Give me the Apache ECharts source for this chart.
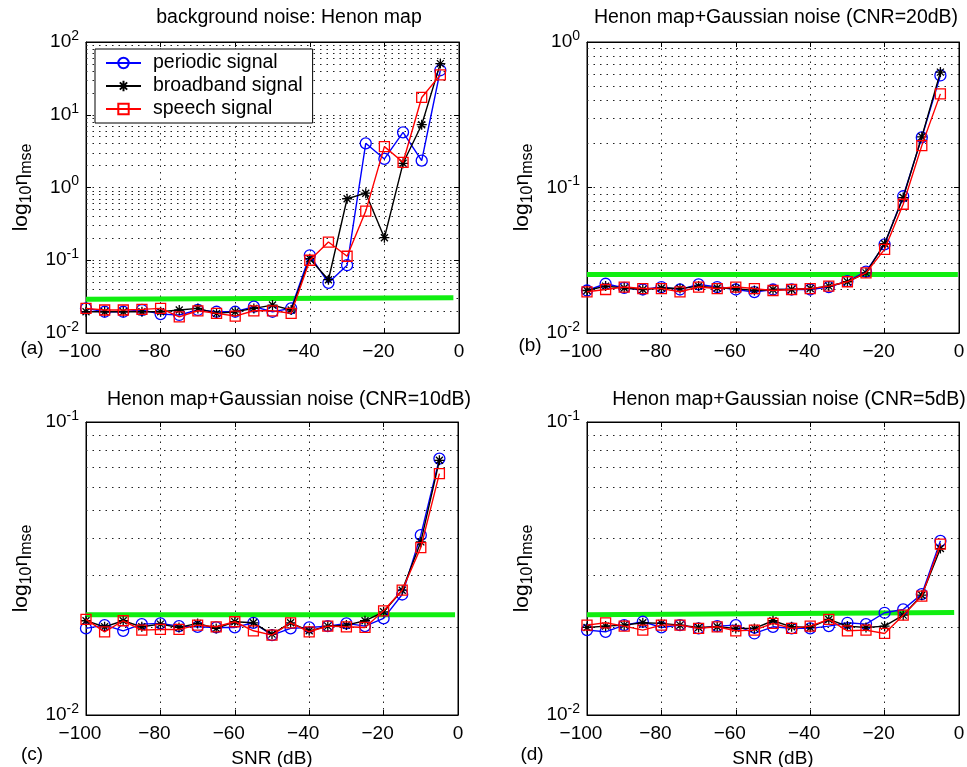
<!DOCTYPE html>
<html>
<head>
<meta charset="utf-8">
<script src="https://cdn.jsdelivr.net/npm/echarts@6/dist/echarts.min.js"></script>
<style>
  html, body { margin: 0; padding: 0; background: #fff; }
  #chart { width: 967px; height: 767px; }
</style>
</head>
<body>
<div id="chart"></div>
<script>
// SNR values (dB) shared by every panel
const snr = [-100, -95, -90, -85, -80, -75, -70, -65, -60, -55, -50, -45, -40, -35, -30, -25, -20, -15, -10, -5];

// (a) background noise: Henon map
const periodicA  = [0.0218, 0.0196, 0.0196, 0.0207, 0.0182, 0.0177, 0.0207, 0.0196, 0.0196, 0.0230, 0.0196, 0.0218, 0.117, 0.049, 0.0855, 4.05, 2.47, 5.73, 2.34, 40.9];
const broadbandA = [0.0196, 0.0196, 0.0196, 0.0196, 0.0196, 0.0207, 0.0218, 0.0186, 0.0196, 0.0218, 0.0242, 0.0207, 0.105, 0.054, 0.70, 0.835, 0.204, 2.15, 7.3, 50.5];
const speechA    = [0.0218, 0.0207, 0.0207, 0.0211, 0.0218, 0.0167, 0.0202, 0.0186, 0.0171, 0.0202, 0.0202, 0.0186, 0.100, 0.178, 0.1135, 0.474, 3.65, 2.22, 17.3, 35.3];
const levelA     = [[-100, 0.0290], [-1.5, 0.0305]];

// (b) Henon map + Gaussian noise, CNR = 20 dB
const periodicB  = [0.0196, 0.0218, 0.0204, 0.0199, 0.0207, 0.0199, 0.0216, 0.0207, 0.0199, 0.0191, 0.0199, 0.0199, 0.0199, 0.0207, 0.0227, 0.0264, 0.0407, 0.0871, 0.221, 0.589];
const broadbandB = [0.0196, 0.0210, 0.0204, 0.0199, 0.0204, 0.0202, 0.0210, 0.0204, 0.0202, 0.0196, 0.0199, 0.0199, 0.0202, 0.0210, 0.0225, 0.0259, 0.0411, 0.0853, 0.223, 0.621];
const speechB    = [0.0192, 0.0199, 0.0207, 0.0202, 0.0202, 0.0192, 0.0207, 0.0202, 0.0207, 0.0202, 0.0196, 0.0199, 0.0202, 0.0210, 0.0225, 0.0259, 0.0376, 0.0767, 0.194, 0.440];
const levelB     = [[-100, 0.0252], [-0.3, 0.0252]];

// (c) Henon map + Gaussian noise, CNR = 10 dB
const periodicC  = [0.01975, 0.02027, 0.01938, 0.02043, 0.02054, 0.02011, 0.0200, 0.0199, 0.0199, 0.02064, 0.01873, 0.01975, 0.0199, 0.02011, 0.02054, 0.02011, 0.02136, 0.02578, 0.04108, 0.0750];
const broadbandC = [0.02097, 0.0200, 0.02097, 0.0200, 0.02043, 0.0199, 0.02054, 0.01975, 0.02081, 0.02064, 0.01888, 0.02064, 0.01938, 0.02011, 0.02027, 0.02097, 0.0225, 0.02667, 0.03898, 0.07401];
const speechC    = [0.02119, 0.01923, 0.02097, 0.01949, 0.01959, 0.01959, 0.02027, 0.0200, 0.02081, 0.01938, 0.01873, 0.02064, 0.01923, 0.02011, 0.0200, 0.0199, 0.02268, 0.02667, 0.03728, 0.06668];
const levelC     = [[-100, 0.0220], [-0.8, 0.0220]];

// (d) Henon map + Gaussian noise, CNR = 5 dB
const periodicD  = [0.01949, 0.01923, 0.02027, 0.02081, 0.0199, 0.02027, 0.01975, 0.02011, 0.02027, 0.01898, 0.0200, 0.01975, 0.01975, 0.02011, 0.02064, 0.02043, 0.02233, 0.02292, 0.02585, 0.03929];
const broadbandD = [0.0199, 0.02011, 0.02027, 0.02064, 0.02054, 0.02027, 0.0199, 0.0200, 0.01975, 0.01975, 0.02097, 0.0200, 0.0199, 0.02119, 0.02011, 0.0199, 0.02011, 0.02192, 0.02564, 0.03699];
const speechD    = [0.02027, 0.02064, 0.02011, 0.01949, 0.02027, 0.02027, 0.01975, 0.0200, 0.01938, 0.01949, 0.02054, 0.01975, 0.02011, 0.02119, 0.01938, 0.01949, 0.01898, 0.02192, 0.02545, 0.03828];
const levelD     = [[-100, 0.0220], [-1.3, 0.0224]];

const seriesNames = ['periodic signal', 'broadband signal', 'speech signal'];
const titles = [
  'background noise: Henon map',
  'Henon map+Gaussian noise (CNR=20dB)',
  'Henon map+Gaussian noise (CNR=10dB)',
  'Henon map+Gaussian noise (CNR=5dB)'
];
const panelLetters = ['(a)', '(b)', '(c)', '(d)'];
const xLabel = 'SNR (dB)';

const FONT = '"Liberation Sans", Arial, Helvetica, sans-serif';
const DOTS = [1.5, 5];

const panels = [
  { rect: { left: 86,  top: 42,  width: 373, height: 291 }, yRange: [0.01, 100], sets: [periodicA, broadbandA, speechA], level: levelA,
    title: [289, 18], letter: [32, 349], xName: '' },
  { rect: { left: 587, top: 42,  width: 372, height: 291 }, yRange: [0.01, 1],   sets: [periodicB, broadbandB, speechB], level: levelB,
    title: [776, 18], letter: [530, 346], xName: '' },
  { rect: { left: 86,  top: 422, width: 372, height: 293 }, yRange: [0.01, 0.1], sets: [periodicC, broadbandC, speechC], level: levelC,
    title: [289, 400], letter: [32, 755], xName: xLabel },
  { rect: { left: 587, top: 422, width: 372, height: 293 }, yRange: [0.01, 0.1], sets: [periodicD, broadbandD, speechD], level: levelD,
    title: [789, 400], letter: [532, 755], xName: xLabel }
];

// marker and colour for each signal type
const styles = [
  { color: '#0000ff', symbol: 'circle', size: 11 },
  { color: '#000000', symbol: 'path://M5 0L5 10M0 5L10 5M1.5 1.5L8.5 8.5M1.5 8.5L8.5 1.5', size: 10 },
  { color: '#ff0000', symbol: 'rect', size: 10 }
];

// minor log grid positions: 2..9 times each decade inside the range
function minorGrid(lo, hi) {
  const out = [];
  for (let d = lo; d < hi * 0.999; d *= 10) {
    for (let k = 2; k <= 9; k++) out.push(+(k * d).toPrecision(3));
  }
  return out;
}

const txt = { color: '#000', fontFamily: FONT, fontSize: 19 };
const tickStyle = { show: true, inside: true, length: 5, lineStyle: { color: '#000' } };
const boxLine = { show: true, onZero: false, lineStyle: { color: '#000', width: 1 } };

const grids = [], xAxes = [], yAxes = [], mirrorX = [], mirrorY = [], series = [], graphics = [];

panels.forEach((p, i) => {
  grids.push(Object.assign({ show: true, borderColor: '#000', borderWidth: 1, backgroundColor: '#fff', containLabel: false, outerBoundsMode: 'none' }, p.rect));

  xAxes.push({
    type: 'value', gridIndex: i, min: -100, max: 0, interval: 20,
    axisLine: boxLine, axisTick: tickStyle,
    axisLabel: {
      ...txt, margin: 9,
      formatter: v => v < 0 ? '{n|\u2212' + (-v) + '}' : '{z|0}',
      rich: { n: { ...txt, padding: [0, 12, 0, 0] }, z: { ...txt } }
    },
    splitLine: { show: true, lineStyle: { color: '#222', type: DOTS, width: 1 } },
    name: p.xName, nameLocation: 'middle', nameGap: 34, nameMoveOverlap: false,
    nameTextStyle: { ...txt }
  });
  // tick marks along the top edge
  mirrorX.push({
    type: 'value', gridIndex: i, position: 'top', min: -100, max: 0, interval: 20,
    axisLine: boxLine, axisTick: tickStyle, axisLabel: { show: false }, splitLine: { show: false }
  });

  yAxes.push({
    type: 'log', logBase: 10, gridIndex: i, min: p.yRange[0], max: p.yRange[1], interval: 1,
    axisLine: boxLine, axisTick: tickStyle,
    axisLabel: {
      ...txt, margin: 7,
      formatter: v => {
        const e = Math.round(Math.log10(v));
        return '{b|10}{s|' + (e < 0 ? '-' + (-e) : e) + '}';
      },
      rich: { b: { ...txt }, s: { ...txt, fontSize: 14, padding: [0, 0, 12, 0] } }
    },
    splitLine: { show: true, lineStyle: { color: '#222', type: DOTS, width: 1 } },
    name: '{a|log}{s|10}{a|\u03b7}{s|mse}', nameLocation: 'middle', nameGap: 51, nameRotate: 90, nameMoveOverlap: false,
    nameTextStyle: { rich: { a: { ...txt, fontSize: 21 }, s: { ...txt, fontSize: 16, padding: [11, 0, 0, 0] } } }
  });
  // tick marks along the right edge
  mirrorY.push({
    type: 'log', logBase: 10, gridIndex: i, position: 'right', min: p.yRange[0], max: p.yRange[1], interval: 1,
    axisLine: boxLine, axisTick: tickStyle, axisLabel: { show: false }, splitLine: { show: false }
  });

  // reference level (green band) with the minor log grid behind it
  series.push({
    type: 'line', xAxisIndex: i, yAxisIndex: i, data: p.level, symbol: 'none', silent: true, z: 2,
    lineStyle: { color: '#10ee10', width: 5 },
    markLine: {
      silent: true, symbol: 'none', z: 1, animation: false,
      label: { show: false },
      lineStyle: { color: '#222', type: DOTS, width: 1 },
      emphasis: { disabled: true },
      data: minorGrid(p.yRange[0], p.yRange[1]).map(v => ({ yAxis: v }))
    }
  });

  p.sets.forEach((vals, k) => {
    const s = styles[k];
    series.push({
      name: seriesNames[k], type: 'line', xAxisIndex: i, yAxisIndex: i, z: 3 + k,
      data: snr.map((x, j) => [x, vals[j]]),
      symbol: s.symbol, symbolSize: s.size,
      lineStyle: { color: s.color, width: 1.4 },
      itemStyle: { color: 'rgba(0,0,0,0)', borderColor: s.color, borderWidth: 1.3 },
      emphasis: { disabled: true }
    });
  });

  graphics.push({
    type: 'text', x: p.title[0], y: p.title[1],
    style: { text: titles[i], font: '19.5px ' + FONT, fill: '#000', align: 'center', verticalAlign: 'middle', textAlign: 'center', textVerticalAlign: 'middle' }
  });
  graphics.push({
    type: 'text', x: p.letter[0], y: p.letter[1],
    style: { text: panelLetters[i], font: '19px ' + FONT, fill: '#000', align: 'center', verticalAlign: 'middle', textAlign: 'center', textVerticalAlign: 'middle' }
  });
});

const chart = echarts.init(document.getElementById('chart'), null, { renderer: 'canvas' });
chart.setOption({
  animation: false,
  backgroundColor: '#fff',
  grid: grids,
  xAxis: xAxes.concat(mirrorX),
  yAxis: yAxes.concat(mirrorY),
  series: series,
  graphic: graphics,
  legend: {
    data: seriesNames, orient: 'vertical', left: 95, top: 49,
    backgroundColor: '#fff', borderColor: '#000', borderWidth: 1,
    padding: [4, 10, 4, 10], itemWidth: 35, itemHeight: 13, itemGap: 3,
    selectedMode: false,
    textStyle: { ...txt, fontSize: 19.5, padding: [0, 0, 0, 7] }
  },
  tooltip: { show: false }
});
</script>
</body>
</html>
